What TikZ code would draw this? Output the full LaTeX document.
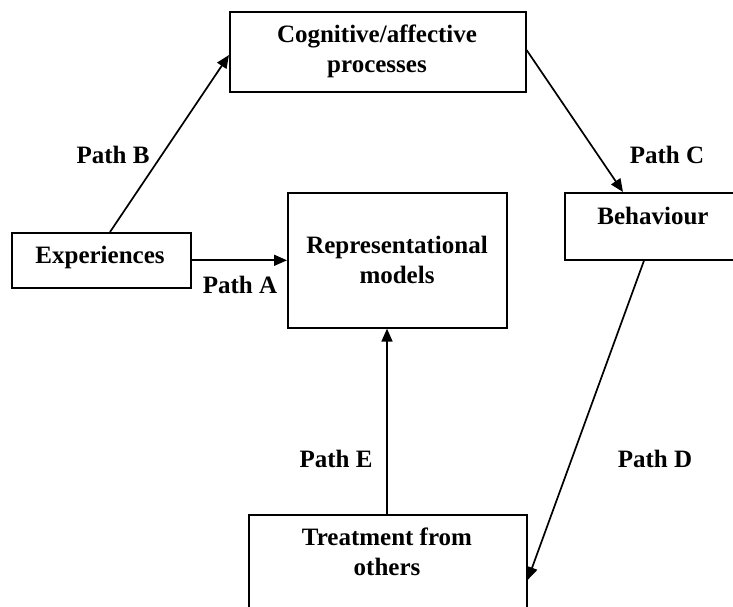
\documentclass[tikz,border=0pt]{standalone}
\usepackage{fontspec}
\setmainfont{Liberation Serif}
\usetikzlibrary{arrows.meta,calc}
\begin{document}
\begin{tikzpicture}[x=1pt,y=-1pt,
  box/.style={draw,line width=1.6pt,rectangle,inner sep=0pt,anchor=north west},
  lbl/.style={font=\fontsize{25pt}{30pt}\selectfont\bfseries,align=center,anchor=base,inner sep=0pt},
  conn/.style={line width=1.7pt,-{Triangle[length=13pt,width=11pt]}}]
\useasboundingbox (0,0) rectangle (733,606);
\clip (0,0) rectangle (733,606);
\node[box,minimum width=296pt,minimum height=80pt] (cog) at (229,11) {};
\node[box,minimum width=179pt,minimum height=55pt] (exp) at (11,232) {};
\node[box,minimum width=219pt,minimum height=135pt] (rep) at (287,192) {};
\node[box,minimum width=180pt,minimum height=67pt] (beh) at (564,192) {};
\node[box,minimum width=278pt,minimum height=130pt] (treat) at (248,514) {};
\node[lbl] (tcog) at (377,72) {Cognitive/affective\\processes};
\node[lbl] (texp) at (100,263) {Experiences};
\node[lbl] (trep) at (397,283) {Representational\\models};
\node[lbl] (tbeh) at (653,224) {Behaviour};
\node[lbl] (ttreat) at (387,575) {Treatment from\\others};
\node[lbl] (la) at (240,293) {Path A};
\node[lbl] (lb) at (113,163) {Path B};
\node[lbl] (lc) at (667,163) {Path C};
\node[lbl] (ld) at (655,467) {Path D};
\node[lbl] (le) at (336,467) {Path E};
\coordinate (eS) at ($(treat.north west)+(139,0)$);
\draw[conn] (exp) -- (rep);
\draw[conn] ($(exp.north west)+(99,0)$) -- ($(cog.north west)+(0,44)$);
\draw[conn] ($(cog.north east)+(0,39)$) -- ($(beh.north west)+(59,0)$);
\draw[conn] ($(beh.south west)+(80,0)$) -- ($(treat.north east)+(0,66)$);
\draw[conn] (eS) -- (eS |- rep.south);
\end{tikzpicture}
\end{document}
